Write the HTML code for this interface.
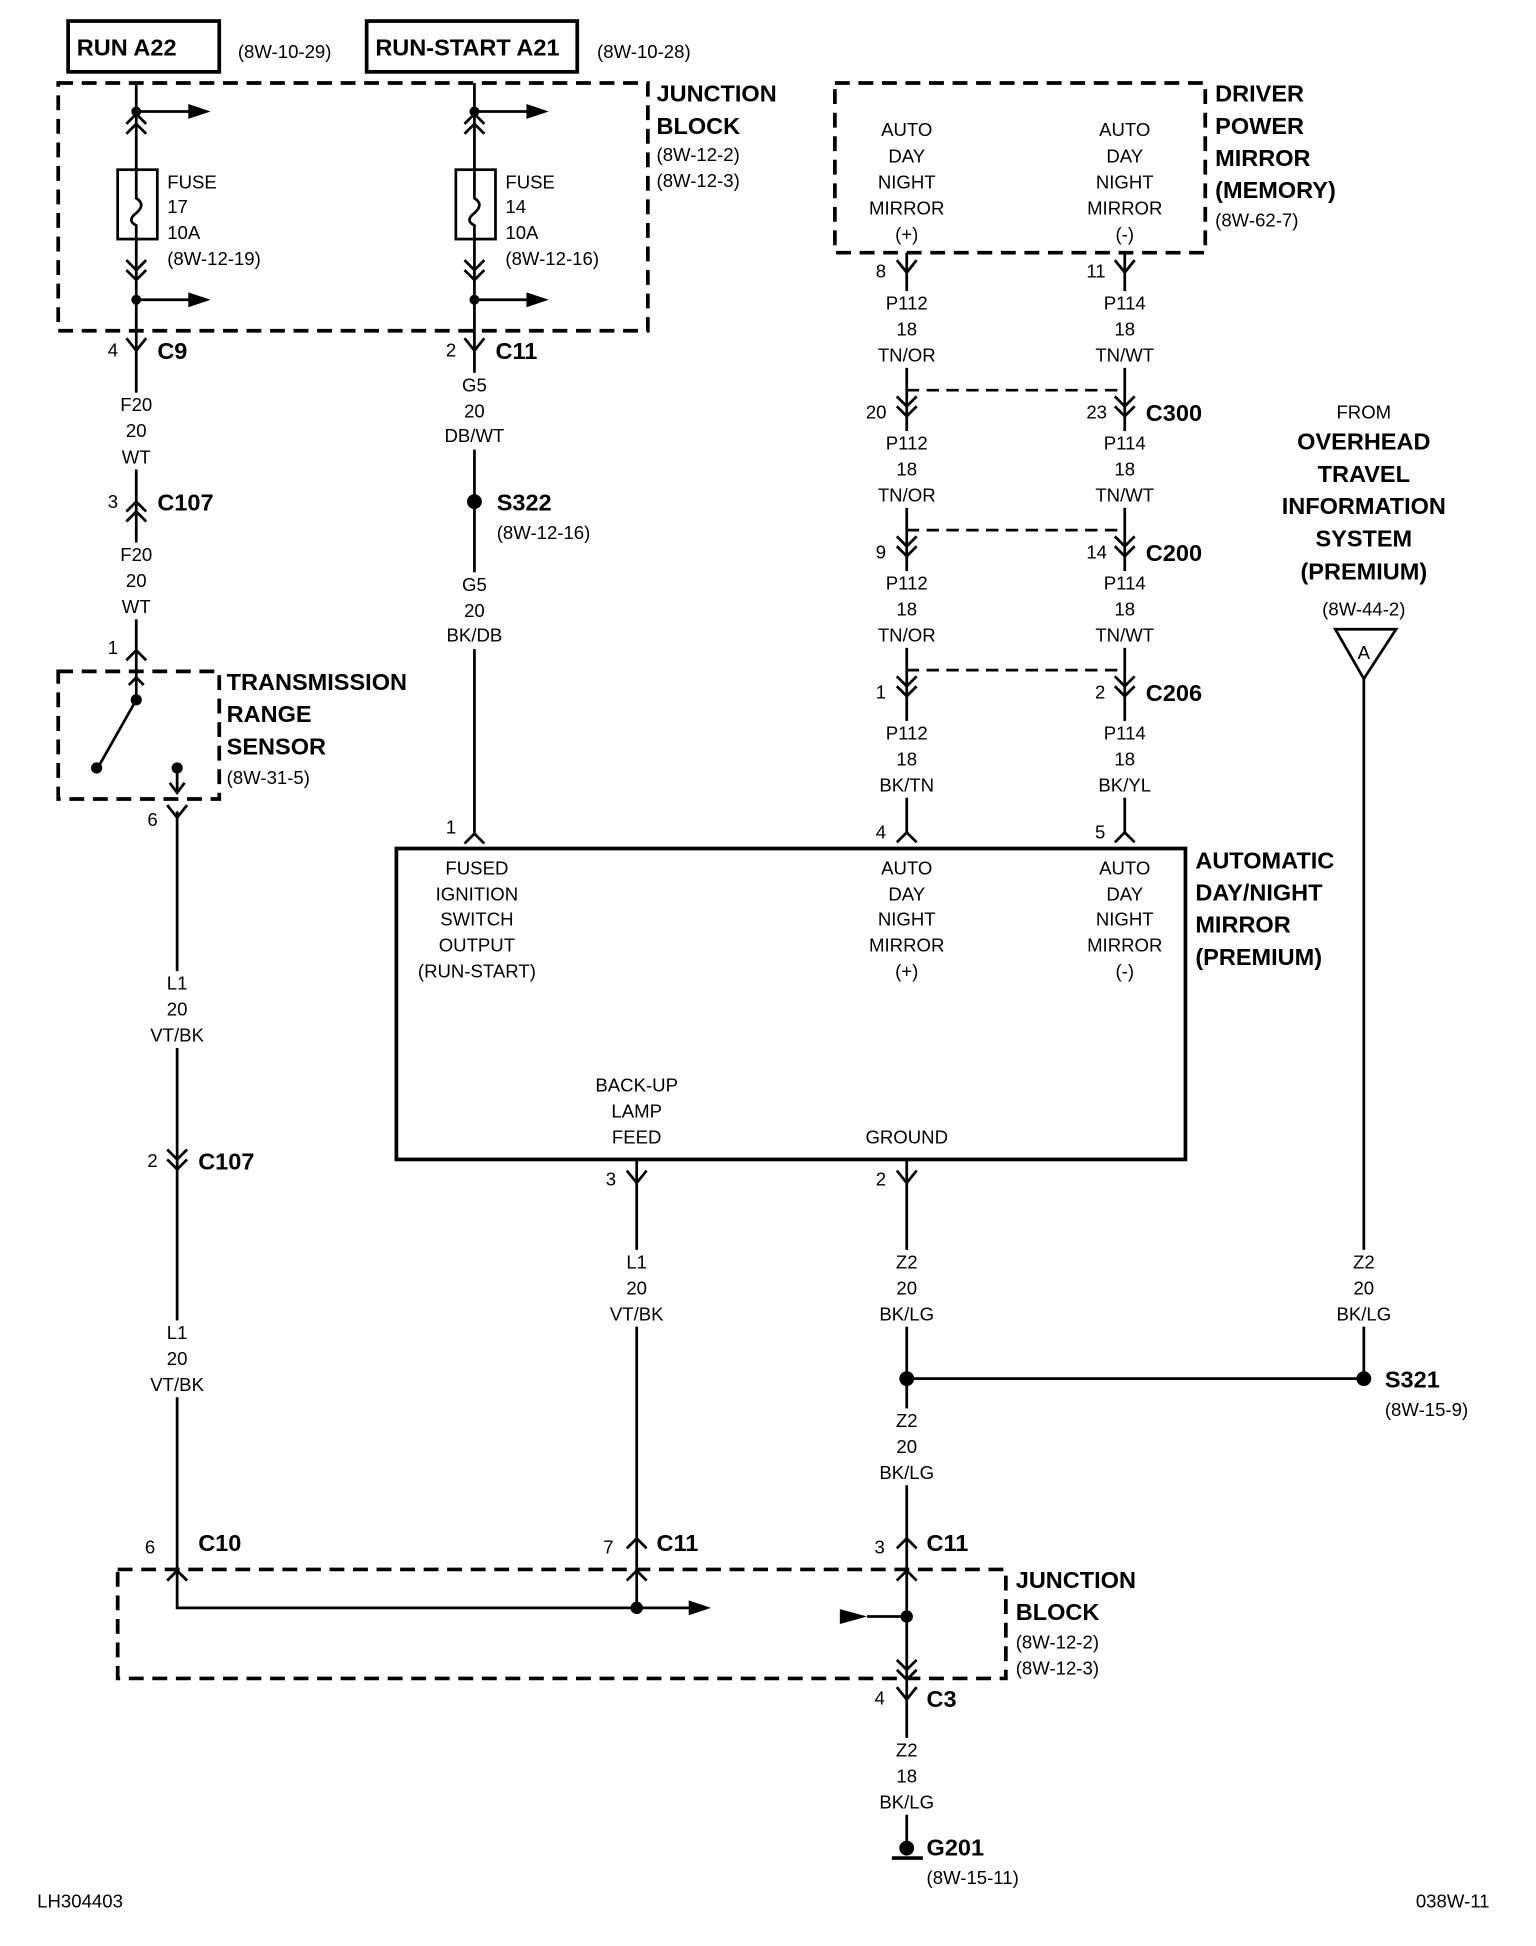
<!DOCTYPE html>
<html><head><meta charset="utf-8"><style>
html,body{margin:0;padding:0;background:#fff}
svg{display:block}
text{font-family:"Liberation Sans",Arial,sans-serif;font-size:15px;fill:#000}
.w{text-anchor:middle}
.b{font-weight:bold;font-size:19px}
.c{text-anchor:middle}
</style></head><body>
<svg width="1536" height="1946" viewBox="0 0 1240 1571" preserveAspectRatio="none" xmlns="http://www.w3.org/2000/svg">
<g stroke="#000" stroke-width="2.2" fill="none">
<rect x="55" y="17" width="122" height="41" stroke-width="3"/>
<rect x="296" y="17" width="170" height="41" stroke-width="3"/>
<rect x="47" y="67" width="476" height="200" stroke-dasharray="12,7" stroke-width="3"/>
<rect x="674" y="67" width="299" height="137" stroke-dasharray="12,7" stroke-width="3"/>
<rect x="47" y="542" width="130" height="103" stroke-dasharray="12,7" stroke-width="3"/>
<rect x="95" y="1267" width="717" height="88" stroke-dasharray="12,7" stroke-width="3"/>
<rect x="320" y="685" width="637" height="251" stroke-width="3"/>
<path d="M110 67V137M110 193V283M383 67V137M383 193V283"/>
<path d="M110 90H165M110 242H165M383 90H438M383 242H438"/>
<path d="M102 100L110 92L118 100M102 108L110 100L118 108M375 100L383 92L391 100M375 108L383 100L391 108"/>
<path d="M102 210L110 218L118 210M102 218L110 226L118 218M375 210L383 218L391 210M375 218L383 226L391 218"/>
<rect x="95" y="137" width="32" height="56"/><rect x="368" y="137" width="32" height="56"/>
<path d="M110 137V160Q118 165 110 172Q102 178 110 182V193M383 137V160Q391 165 383 172Q375 178 383 182V193"/>
<path d="M110 283V525M102 273L110 283L118 273M102 413L110 405L118 413M102 421L110 413L118 421M102 533L110 525L118 533"/>
<path d="M110 525V565L80 618M143 620V640M137 632L143 640L149 632M104 553L110 547L116 553"/>
<path d="M143 655V1270M135 650L143 660L151 650M135 928L143 936L151 928M135 936L143 944L151 936M135 1276L143 1268L151 1276"/>
<path d="M143 1270V1298H560"/>
<path d="M383 283V673M375 273L383 283L391 273M375 681L383 673L391 681"/>
<path d="M732 204V672M908 204V672M724 210L732 220L740 210M900 210L908 220L916 210"/>
<path d="M724 320L732 328L740 320M724 328L732 336L740 328M900 320L908 328L916 320M900 328L908 336L916 328"/>
<path d="M724 433L732 441L740 433M724 441L732 449L740 441M900 433L908 441L916 433M900 441L908 449L916 441"/>
<path d="M724 546L732 554L740 546M724 554L732 562L740 554M900 546L908 554L916 546M900 554L908 562L916 554"/>
<path d="M732 315H908M732 428H908M732 541H908" stroke-dasharray="10,6"/>
<path d="M724 680L732 672L740 680M900 680L908 672L916 680"/>
<path d="M514 936V1298M732 936V1495M1101 548V1113M732 1113H1101"/>
<path d="M506 945L514 955L522 945M724 945L732 955L740 945"/>
<path d="M135 1276L143 1268L151 1276M506 1276L514 1268L522 1276M724 1276L732 1268L740 1276M506 1250L514 1242L522 1250M724 1250L732 1242L740 1250"/>
<path d="M724 1340L732 1348L740 1340M724 1348L732 1356L740 1348M724 1362L732 1372L740 1362"/>
<path d="M700 1305H732"/>
<path d="M720 1500H745" stroke-width="3"/>
<path d="M1078 508H1127L1101 548Z"/>
</g>
<g fill="#fff">
<rect x="85" y="317" width="50" height="62"/><rect x="85" y="438" width="50" height="62"/>
<rect x="118" y="784" width="50" height="62"/><rect x="118" y="1066" width="50" height="62"/>
<rect x="358" y="301" width="50" height="62"/><rect x="358" y="462" width="50" height="62"/>
<rect x="707" y="235" width="50" height="62"/><rect x="883" y="235" width="50" height="62"/>
<rect x="707" y="348" width="50" height="62"/><rect x="883" y="348" width="50" height="62"/>
<rect x="707" y="461" width="50" height="62"/><rect x="883" y="461" width="50" height="62"/>
<rect x="707" y="582" width="50" height="62"/><rect x="883" y="582" width="50" height="62"/>
<rect x="489" y="1009" width="50" height="62"/><rect x="707" y="1009" width="50" height="62"/>
<rect x="1076" y="1009" width="50" height="62"/><rect x="707" y="1137" width="50" height="62"/>
<rect x="707" y="1403" width="50" height="62"/>
</g>
<g fill="#000">
<path d="M152 84L170 90L152 96Z"/><path d="M152 236L170 242L152 248Z"/>
<path d="M425 84L443 90L425 96Z"/><path d="M425 236L443 242L425 248Z"/>
<path d="M556 1292L574 1298L556 1304Z"/><path d="M678 1299L700 1305L678 1311Z"/>
<circle cx="110" cy="90" r="4"/><circle cx="110" cy="242" r="4"/><circle cx="383" cy="90" r="4"/><circle cx="383" cy="242" r="4"/>
<circle cx="110" cy="565" r="4.5"/><circle cx="78" cy="620" r="4.5"/><circle cx="143" cy="620" r="4.5"/>
<circle cx="383" cy="405" r="6"/><circle cx="514" cy="1298" r="5"/><circle cx="732" cy="1305" r="5"/>
<circle cx="732" cy="1113" r="6"/><circle cx="1101" cy="1113" r="6"/><circle cx="732" cy="1492" r="6"/>
</g>
<text class="b" x="62" y="45">RUN A22</text><text x="192" y="47">(8W-10-29)</text>
<text class="b" x="303" y="45">RUN-START A21</text><text x="482" y="47">(8W-10-28)</text>
<text class="b" x="530" y="82">JUNCTION</text><text class="b" x="530" y="108">BLOCK</text>
<text x="530" y="130">(8W-12-2)</text><text x="530" y="151">(8W-12-3)</text>
<text x="135" y="152">FUSE</text><text x="135" y="172">17</text><text x="135" y="193">10A</text><text x="135" y="214">(8W-12-19)</text>
<text x="408" y="152">FUSE</text><text x="408" y="172">14</text><text x="408" y="193">10A</text><text x="408" y="214">(8W-12-16)</text>
<text x="87" y="288">4</text><text class="b" x="127" y="290">C9</text>
<text x="360" y="288">2</text><text class="b" x="400" y="290">C11</text>
<text class="w" x="110" y="332">F20</text><text class="w" x="110" y="353">20</text><text class="w" x="110" y="374">WT</text>
<text x="87" y="410">3</text><text class="b" x="127" y="412">C107</text>
<text class="w" x="110" y="453">F20</text><text class="w" x="110" y="474">20</text><text class="w" x="110" y="495">WT</text>
<text x="87" y="528">1</text>
<text class="b" x="183" y="557">TRANSMISSION</text><text class="b" x="183" y="583">RANGE</text><text class="b" x="183" y="609">SENSOR</text><text x="183" y="633">(8W-31-5)</text>
<text x="119" y="667">6</text>
<text class="w" x="143" y="799">L1</text><text class="w" x="143" y="820">20</text><text class="w" x="143" y="841">VT/BK</text>
<text x="119" y="942">2</text><text class="b" x="160" y="944">C107</text>
<text class="w" x="143" y="1081">L1</text><text class="w" x="143" y="1102">20</text><text class="w" x="143" y="1123">VT/BK</text>
<text x="117" y="1254">6</text><text class="b" x="160" y="1252">C10</text>
<text x="487" y="1254">7</text><text class="b" x="530" y="1252">C11</text>
<text x="706" y="1254">3</text><text class="b" x="748" y="1252">C11</text>
<text class="b" x="820" y="1282">JUNCTION</text><text class="b" x="820" y="1308">BLOCK</text>
<text x="820" y="1331">(8W-12-2)</text><text x="820" y="1352">(8W-12-3)</text>
<text x="706" y="1376">4</text><text class="b" x="748" y="1378">C3</text>
<text class="w" x="732" y="1418">Z2</text><text class="w" x="732" y="1439">18</text><text class="w" x="732" y="1460">BK/LG</text>
<text class="b" x="748" y="1498">G201</text><text x="748" y="1521">(8W-15-11)</text>
<text class="w" x="383" y="316">G5</text><text class="w" x="383" y="337">20</text><text class="w" x="383" y="357">DB/WT</text>
<text class="b" x="401" y="412">S322</text><text x="401" y="435">(8W-12-16)</text>
<text class="w" x="383" y="477">G5</text><text class="w" x="383" y="498">20</text><text class="w" x="383" y="518">BK/DB</text>
<text x="360" y="673">1</text>
<g class="c">
<text x="732" y="110">AUTO</text><text x="732" y="131">DAY</text><text x="732" y="152">NIGHT</text><text x="732" y="173">MIRROR</text><text x="732" y="194">(+)</text>
<text x="908" y="110">AUTO</text><text x="908" y="131">DAY</text><text x="908" y="152">NIGHT</text><text x="908" y="173">MIRROR</text><text x="908" y="194">(-)</text>
<text x="385" y="706">FUSED</text><text x="385" y="727">IGNITION</text><text x="385" y="747">SWITCH</text><text x="385" y="768">OUTPUT</text><text x="385" y="789">(RUN-START)</text>
<text x="732" y="706">AUTO</text><text x="732" y="727">DAY</text><text x="732" y="747">NIGHT</text><text x="732" y="768">MIRROR</text><text x="732" y="789">(+)</text>
<text x="908" y="706">AUTO</text><text x="908" y="727">DAY</text><text x="908" y="747">NIGHT</text><text x="908" y="768">MIRROR</text><text x="908" y="789">(-)</text>
<text x="514" y="881">BACK-UP</text><text x="514" y="902">LAMP</text><text x="514" y="923">FEED</text><text x="732" y="923">GROUND</text>
<text x="1101" y="338">FROM</text><text x="1101" y="497">(8W-44-2)</text><text x="1101" y="532">A</text>
<text class="b" x="1101" y="363">OVERHEAD</text><text class="b" x="1101" y="389">TRAVEL</text><text class="b" x="1101" y="415">INFORMATION</text><text class="b" x="1101" y="441">SYSTEM</text><text class="b" x="1101" y="468">(PREMIUM)</text>
</g>
<text class="b" x="981" y="82">DRIVER</text><text class="b" x="981" y="108">POWER</text><text class="b" x="981" y="134">MIRROR</text><text class="b" x="981" y="160">(MEMORY)</text><text x="981" y="183">(8W-62-7)</text>
<text x="707" y="224">8</text><text x="877" y="224">11</text>
<text class="w" x="732" y="250">P112</text><text class="w" x="732" y="271">18</text><text class="w" x="732" y="292">TN/OR</text>
<text class="w" x="908" y="250">P114</text><text class="w" x="908" y="271">18</text><text class="w" x="908" y="292">TN/WT</text>
<text x="699" y="338">20</text><text x="877" y="338">23</text><text class="b" x="925" y="340">C300</text>
<text class="w" x="732" y="363">P112</text><text class="w" x="732" y="384">18</text><text class="w" x="732" y="405">TN/OR</text>
<text class="w" x="908" y="363">P114</text><text class="w" x="908" y="384">18</text><text class="w" x="908" y="405">TN/WT</text>
<text x="707" y="451">9</text><text x="877" y="451">14</text><text class="b" x="925" y="453">C200</text>
<text class="w" x="732" y="476">P112</text><text class="w" x="732" y="497">18</text><text class="w" x="732" y="518">TN/OR</text>
<text class="w" x="908" y="476">P114</text><text class="w" x="908" y="497">18</text><text class="w" x="908" y="518">TN/WT</text>
<text x="707" y="564">1</text><text x="884" y="564">2</text><text class="b" x="925" y="566">C206</text>
<text class="w" x="732" y="597">P112</text><text class="w" x="732" y="618">18</text><text class="w" x="732" y="639">BK/TN</text>
<text class="w" x="908" y="597">P114</text><text class="w" x="908" y="618">18</text><text class="w" x="908" y="639">BK/YL</text>
<text x="707" y="677">4</text><text x="884" y="677">5</text>
<text class="b" x="965" y="701">AUTOMATIC</text><text class="b" x="965" y="727">DAY/NIGHT</text><text class="b" x="965" y="753">MIRROR</text><text class="b" x="965" y="779">(PREMIUM)</text>
<text x="489" y="957">3</text><text x="707" y="957">2</text>
<text class="w" x="514" y="1024">L1</text><text class="w" x="514" y="1045">20</text><text class="w" x="514" y="1066">VT/BK</text>
<text class="w" x="732" y="1024">Z2</text><text class="w" x="732" y="1045">20</text><text class="w" x="732" y="1066">BK/LG</text>
<text class="w" x="1101" y="1024">Z2</text><text class="w" x="1101" y="1045">20</text><text class="w" x="1101" y="1066">BK/LG</text>
<text class="w" x="732" y="1152">Z2</text><text class="w" x="732" y="1173">20</text><text class="w" x="732" y="1194">BK/LG</text>
<text class="b" x="1118" y="1120">S321</text><text x="1118" y="1143">(8W-15-9)</text>
<text x="30" y="1540">LH304403</text><text x="1143" y="1540">038W-11</text>
</svg>
</body></html>
